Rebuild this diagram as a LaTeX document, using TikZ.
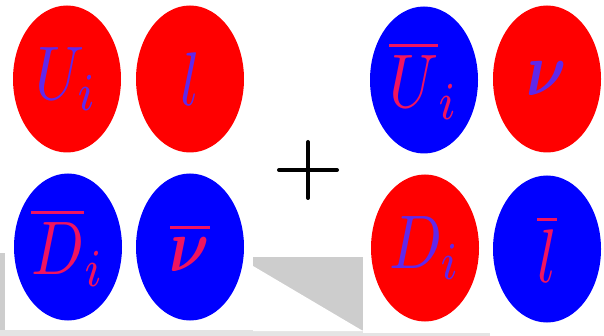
\documentclass[tikz,border=0pt]{standalone}
\usepackage{amsmath}
\usepackage{graphicx}
\usepackage{tikz}
\usetikzlibrary{shapes.geometric}
\usepackage{xcolor}
\definecolor{ballred}{RGB}{255,0,0}
\definecolor{ballblue}{RGB}{0,0,255}
\definecolor{inkblue}{RGB}{95,40,235}
\definecolor{inkred}{RGB}{240,20,95}
\definecolor{shadowgray}{RGB}{205,205,205}
\definecolor{edgegray}{RGB}{228,228,228}
\newcommand{\ballsym}[1]{\scalebox{6.2}[7.6]{$#1$}}

\begin{document}
\begin{tikzpicture}[x=1pt,y=-1pt]
  \tikzset{
    ball/.style={ellipse,minimum width=108pt,minimum height=147pt,inner sep=0pt},
    redball/.style={ball,fill=ballred,text=inkblue},
    blueball/.style={ball,fill=ballblue,text=inkred},
    plusline/.style={draw=black,line width=4pt,line cap=round},
  }
  \useasboundingbox (0,0) rectangle (604,336);

  \fill[shadowgray] (0,253) rectangle (363,333);
  \fill[edgegray] (0,330) rectangle (490,336);
  \fill[white] (253,230) rectangle (363,257);
  \fill[white] (253,266) -- (363,331) -- (253,331) -- cycle;
  \fill[white] (5,0) rectangle (253,330);
  \fill[white] (363,0) rectangle (604,333);

  \node[redball] (ui) at (67,79) {\ballsym{U_i}};
  \node[redball] (lep) at (190,79) {\ballsym{l}};
  \node[blueball] (dbar) at (68,247) {\ballsym{\overline{D}_i}};
  \node[blueball] (nubar) at (190,247) {\ballsym{\overline{\boldsymbol{\nu}}}};

  \coordinate (plus) at (308,170);
  \draw[plusline] (plus) ++(-29,0) -- ++(58,0);
  \draw[plusline] (plus) ++(0,-28) -- ++(0,56);

  \node[blueball] (ubar) at (424,80) {\ballsym{\overline{U}_i}};
  \node[redball] (nu) at (547,79) {\ballsym{\boldsymbol{\nu}}};
  \node[redball] (di) at (425,248) {\ballsym{D_i}};
  \node[blueball] (lbar) at (547,249) {\ballsym{\overline{l}}};
\end{tikzpicture}
\end{document}
